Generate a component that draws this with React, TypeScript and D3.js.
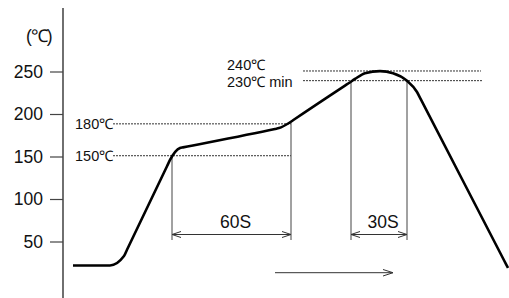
import React, { useEffect } from "react";
import * as d3 from "d3";

// temperature profile (t in seconds, v in axis units)
const profileTime = [
  5, 7, 21.5, 23.5,
  30.5, 32, 52, 53.5,
  58.5, 60, 106, 108,
  113, 115, 141, 143,
  146, 151, 158.5, 165, 172,
  177, 179, 220.5, 222.5,
];
const profileTemp = [
  22.4, 22.4, 22.4, 22.4,
  33.5, 40.9, 139.1, 146.5,
  160.6, 161.3, 183.0, 184.0,
  190.0, 193.2, 234.0, 237.1,
  241.8, 248.6, 251, 248.6, 239.6,
  226.5, 217.4, 28.5, 19.4,
];

const yTicks = [50, 100, 150, 200, 250];

// reference levels (labels, level on the axis, start/end time of the dashed line)
const levelLabels = ["150℃", "180℃", "240℃", "230℃ min"];
const levelValues = [151.5, 189, 251.2, 239.8];
const levelStart = [25, 25, 120, 120];
const levelEnd = [114, 114, 209, 209.5];

// dwell spans
const spanLabels = ["60S", "30S"];
const spanStart = [54.5, 144];
const spanEnd = [114, 172];
const spanTop = [151.5, 191, 239.8, 239.8];

const font = "'Liberation Sans', Arial, Helvetica, sans-serif";

export default function App() {
  useEffect(() => {
    document.body.style.margin = "0";
  }, []);

  const width = 509;
  const height = 298;

  const x = d3.scaleLinear().domain([0, 223]).range([63, 509]);
  const y = d3.scaleLinear().domain([50, 250]).range([242, 72]);

  const pts: [number, number][] = profileTime.map((t, i) => [t, profileTemp[i]]);
  const line = d3
    .line<[number, number]>()
    .x((d) => x(d[0]))
    .y((d) => y(d[1]))
    .curve(d3.curveMonotoneX);

  const dimY = 234.5;
  const extBottom = 240;
  const ax = x(0);

  const extX = [spanStart[0], spanEnd[0], spanStart[1], spanEnd[1]];

  return (
    <svg width={width} height={height} style={{ display: "block", background: "#fff" }} fontFamily={font}>
      {/* y axis */}
      <line x1={ax} x2={ax} y1={8} y2={298} stroke="#222" strokeWidth={1.3} />
      {yTicks.map((t) => (
        <g key={t}>
          <line x1={50} x2={ax} y1={y(t)} y2={y(t)} stroke="#444" strokeWidth={1.2} />
          <text x={43} y={y(t) + 5.5} textAnchor="end" fontSize={17.5} fill="#111">
            {t}
          </text>
        </g>
      ))}
      <text x={26} y={42} fontSize={17.5} fill="#111" letterSpacing={-1}>
        (℃)
      </text>

      {/* dashed reference levels */}
      {levelLabels.map((lab, i) => (
        <line
          key={lab}
          x1={x(levelStart[i])}
          x2={x(levelEnd[i])}
          y1={y(levelValues[i])}
          y2={y(levelValues[i])}
          stroke="#333"
          strokeWidth={1}
          strokeDasharray="2,1"
        />
      ))}
      <text x={75} y={y(levelValues[0]) + 5} fontSize={14.5} fill="#111">{levelLabels[0]}</text>
      <text x={75} y={y(levelValues[1]) + 5} fontSize={14.5} fill="#111">{levelLabels[1]}</text>
      <text x={227} y={y(levelValues[2]) - 0.5} fontSize={14.5} fill="#111">{levelLabels[2]}</text>
      <text x={227} y={y(levelValues[3]) + 6.5} fontSize={14.5} fill="#111">{levelLabels[3]}</text>

      {/* extension lines */}
      {extX.map((t, i) => (
        <line key={i} x1={x(t)} x2={x(t)} y1={y(spanTop[i])} y2={extBottom} stroke="#444" strokeWidth={1} />
      ))}

      {/* dimension arrows */}
      {spanLabels.map((lab, i) => {
        const a = x(spanStart[i]);
        const b = x(spanEnd[i]);
        return (
          <g key={lab} stroke="#333" strokeWidth={1} fill="none">
            <line x1={a} x2={b} y1={dimY} y2={dimY} />
            <polyline points={`${a + 9},${dimY - 3} ${a},${dimY} ${a + 9},${dimY + 3}`} />
            <polyline points={`${b - 9},${dimY - 3} ${b},${dimY} ${b - 9},${dimY + 3}`} />
            <text
              x={(a + b) / 2 + 4}
              y={227.7}
              textAnchor="middle"
              fontSize={17.5}
              fill="#111"
              stroke="none"
            >
              {lab}
            </text>
          </g>
        );
      })}

      {/* time direction arrow */}
      <g stroke="#333" strokeWidth={1} fill="none">
        <line x1={275} x2={393} y1={272.7} y2={272.7} />
        <polyline points={`383,269.5 393,272.7 383,276`} />
      </g>

      {/* profile */}
      <path d={line(pts) ?? ""} fill="none" stroke="#000" strokeWidth={2.6} strokeLinejoin="round" />
    </svg>
  );
}
